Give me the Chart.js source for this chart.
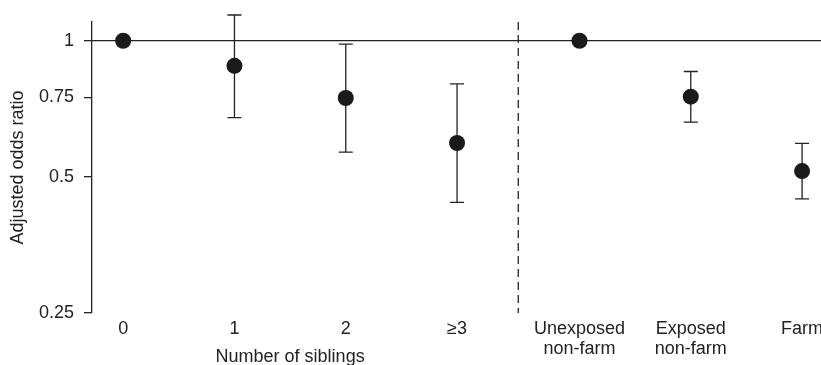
<!DOCTYPE html>
<html lang="en">
<head>
    <meta charset="UTF-8">
    <title>Adjusted odds ratio</title>
    <script src="https://cdn.jsdelivr.net/npm/chart.js"></script>
    <style>
        html, body { margin: 0; padding: 0; background: #fff; }
        #wrap { width: 821px; height: 365px; }
    </style>
</head>
<body>
    <div id="wrap">
        <canvas id="myChart"></canvas>
    </div>
    <script>
        const categories = ['0', '1', '2', '≥3', ['Unexposed', 'non-farm'], ['Exposed', 'non-farm'], 'Farm'];
        const xPos = [0, 1, 2, 3, 4.1, 5.1, 6.1];
        const oddsRatio = [1.0, 0.88, 0.747, 0.594, 1.0, 0.752, 0.515];
        const ciLow = [null, 0.676, 0.567, 0.439, null, 0.661, 0.447];
        const ciHigh = [null, 1.14, 0.983, 0.803, null, 0.855, 0.593];
        const yTicks = [0.25, 0.5, 0.75, 1];
        const dividerX = 3.55;

        const ink = '#222';
        const font = "'Liberation Sans', Arial, sans-serif";

        const points = xPos.map((x, i) => ({x: x, y: oddsRatio[i]}));

        const ctx = document.getElementById('myChart').getContext('2d');
        const myChart = new Chart(ctx, {
            type: 'scatter',
            data: {
                datasets: [{
                    data: points,
                    pointRadius: 8,
                    pointHoverRadius: 8,
                    backgroundColor: '#1a1a1a',
                    borderWidth: 0
                }]
            },
            options: {
                responsive: true,
                maintainAspectRatio: false,
                animation: false,
                layout: { autoPadding: false, padding: { top: 22, right: 0, bottom: 0, left: 0 } },
                plugins: {
                    legend: { display: false },
                    tooltip: { enabled: false }
                },
                scales: {
                    x: {
                        type: 'linear',
                        min: -0.28,
                        max: 6.27,
                        grid: { display: false, drawTicks: false },
                        border: { display: false },
                        afterBuildTicks: (scale) => {
                            scale.ticks = xPos.map(v => ({value: v}));
                        },
                        afterFit: (scale) => {
                            scale.height = 52;
                            scale.paddingLeft = 0;
                            scale.paddingRight = 0;
                        },
                        ticks: {
                            autoSkip: false,
                            maxRotation: 0,
                            minRotation: 0,
                            padding: 6,
                            color: ink,
                            font: { family: font, size: 18, lineHeight: 1.12 },
                            callback: (value, index) => categories[index]
                        }
                    },
                    y: {
                        type: 'logarithmic',
                        min: 0.25,
                        max: 1.10,
                        grid: {
                            display: true,
                            drawOnChartArea: false,
                            drawTicks: true,
                            tickLength: 8,
                            color: ink,
                            lineWidth: 1.3
                        },
                        border: { display: true, color: ink, width: 1.3 },
                        afterBuildTicks: (scale) => {
                            scale.ticks = yTicks.map(v => ({value: v}));
                        },
                        afterFit: (scale) => {
                            scale.width = 92;
                        },
                        ticks: {
                            padding: 10,
                            color: ink,
                            font: { family: font, size: 18 },
                            callback: (value) => String(value)
                        },
                        title: {
                            display: true,
                            text: 'Adjusted odds ratio',
                            color: ink,
                            padding: { top: 7, bottom: 0 },
                            font: { family: font, size: 18 }
                        }
                    }
                }
            },
            plugins: [{
                id: 'refLines',
                beforeDatasetsDraw: (chart) => {
                    const {ctx, chartArea, scales} = chart;
                    const x = scales.x, y = scales.y;
                    ctx.save();
                    ctx.strokeStyle = ink;
                    ctx.lineWidth = 1.3;

                    // line at odds ratio 1
                    const y1 = y.getPixelForValue(1);
                    ctx.beginPath();
                    ctx.moveTo(chartArea.left, y1);
                    ctx.lineTo(chartArea.right, y1);
                    ctx.stroke();

                    // divider between the two groups
                    const dx = x.getPixelForValue(dividerX);
                    ctx.setLineDash([8, 5]);
                    ctx.beginPath();
                    ctx.moveTo(dx, chartArea.top);
                    ctx.lineTo(dx, chartArea.bottom);
                    ctx.stroke();
                    ctx.setLineDash([]);

                    // error bars
                    xPos.forEach((v, i) => {
                        if (ciLow[i] == null) return;
                        const px = x.getPixelForValue(v);
                        const lo = y.getPixelForValue(ciLow[i]);
                        const hi = y.getPixelForValue(ciHigh[i]);
                        ctx.beginPath();
                        ctx.moveTo(px, lo);
                        ctx.lineTo(px, hi);
                        ctx.moveTo(px - 7, lo);
                        ctx.lineTo(px + 7, lo);
                        ctx.moveTo(px - 7, hi);
                        ctx.lineTo(px + 7, hi);
                        ctx.stroke();
                    });
                    ctx.restore();
                }
            }, {
                id: 'groupTitle',
                afterDraw: (chart) => {
                    const {ctx, chartArea, scales} = chart;
                    const cx = (scales.x.getPixelForValue(xPos[0]) + scales.x.getPixelForValue(xPos[3])) / 2;
                    ctx.save();
                    ctx.fillStyle = ink;
                    ctx.font = '18px ' + font;
                    ctx.textAlign = 'center';
                    ctx.textBaseline = 'alphabetic';
                    ctx.fillText('Number of siblings', cx, chartArea.bottom + 49);
                    ctx.restore();
                }
            }]
        });
    </script>
</body>
</html>
